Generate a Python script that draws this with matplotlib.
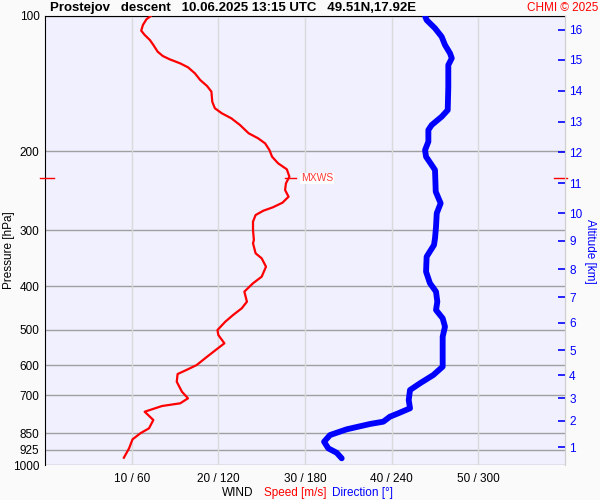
import matplotlib
matplotlib.use('Agg')
import matplotlib.pyplot as plt
from matplotlib.ticker import FixedLocator, NullLocator

plt.rcParams['font.family'] = ['Liberation Sans', 'DejaVu Sans']

# wind speed profile [m/s] vs pressure [hPa]
speed_p = [100, 101.7, 104.7, 107.8, 110.2, 113.1, 116.0, 120.1, 122.8, 124.9,
           127.5, 130.1, 134.2, 138.8, 143.2, 147.4, 155.2, 160.5, 164.7, 169.0,
           174.9, 182.5, 187.3, 192.2, 198.9, 205.8, 212.9, 219.5, 228.0, 235.9,
           244.1, 252.6, 260.5, 266.7, 271.4, 277.5, 287.1, 299.7, 315.4, 320.8,
           337.7, 346.5, 361.7, 380.7, 393.8, 411.1, 432.8, 447.7, 463.4, 479.6,
           500.5, 513.5, 535.8, 552.5, 573.9, 598.9, 614.5, 627.2, 652.5, 686.8,
           710.4, 728.8, 739.0, 760.9, 794.0, 828.5, 850.0, 876.7, 918.1, 963.3]
speed = [12.2, 11.7, 11.3, 11.1, 11.5, 12.1, 12.5, 13.0, 13.6, 14.4,
         15.6, 16.5, 17.3, 17.9, 18.7, 19.2, 19.3, 19.6, 20.4, 21.5,
         22.5, 23.5, 24.6, 25.4, 25.9, 26.2, 26.9, 27.9, 28.2, 27.8,
         27.7, 28.1, 27.4, 26.3, 25.2, 24.3, 24.0, 24.0, 24.1, 24.0,
         24.3, 25.0, 25.5, 25.0, 24.0, 23.0, 23.3, 22.7, 21.7, 20.8,
         19.9, 20.0, 20.7, 19.8, 18.7, 17.5, 16.3, 15.3, 15.2, 15.8,
         16.5, 15.6, 13.5, 11.5, 12.5, 12.0, 11.0, 10.1, 9.7, 9.1]

# wind direction profile [deg] vs pressure [hPa]
dir_p = [100, 102.1, 106.5, 111.2, 116.0, 121.1, 124.2, 128.6, 143.7, 162.0,
         167.6, 174.9, 179.4, 190.5, 198.9, 205.8, 214.7, 220.3, 246.2, 261.3,
         275.0, 294.6, 312.6, 323.6, 343.6, 371.1, 393.8, 411.1, 432.8, 451.6,
         471.3, 492.0, 518.0, 603.9, 630.4, 657.7, 680.8, 716.6, 747.6, 767.1,
         780.5, 800.8, 810.3, 832.7, 857.6, 887.5, 918.1, 939.0, 966.3]
direction = [263.1, 264.2, 270.0, 274.6, 276.9, 280.4, 281.6, 279.2, 279.2, 278.8,
             274.6, 267.7, 265.4, 265.4, 263.1, 263.8, 267.7, 270.0, 270.5, 273.9,
             271.2, 270.7, 270.0, 269.3, 264.2, 263.8, 266.5, 270.7, 271.6, 270.7,
             275.3, 276.9, 275.3, 275.3, 268.8, 259.6, 252.7, 251.8, 252.7, 244.6,
             238.8, 234.2, 225.0, 208.9, 197.3, 193.2, 196.1, 201.9, 205.4]

p_ticks = [100, 200, 300, 400, 500, 600, 700, 850, 925, 1000]
x_ticks = [10, 20, 30, 40, 50]
x_labels = ['10 / 60', '20 / 120', '30 / 180', '40 / 240', '50 / 300']

alt_km = [16, 15, 14, 13, 12, 11, 10, 9, 8, 7, 6, 5, 4, 3, 2, 1]
alt_p = [107.4, 125.3, 146.9, 172.2, 200.9, 235.5, 274.7, 317.0, 366.0, 422.6,
         482.7, 554.5, 630.4, 709.3, 798.0, 912.0]

mxws_speed = 28.2
mxws_p = 230.0

fig = plt.figure(figsize=(6, 5), dpi=100, facecolor='#fafafa')
ax = fig.add_axes([0.075, 0.07, 0.8667, 0.898])
ax.set_facecolor('#f0f0ff')
ax.set_yscale('log')
ax.set_ylim(1000, 100)
ax.set_xlim(0, 60)

ax.yaxis.set_major_locator(FixedLocator(p_ticks))
ax.yaxis.set_minor_locator(NullLocator())
ax.set_yticklabels([str(p) for p in p_ticks])
ax.set_xticks(x_ticks)
ax.set_xticklabels(x_labels)
ax.tick_params(axis='both', length=0, labelsize=8.5, colors='black')
ax.tick_params(axis='y', pad=4)
ax.tick_params(axis='x', pad=6)

for p in p_ticks:
    ax.axhline(p, color='#a0a0a0', lw=1, zorder=1)
for x in x_ticks:
    ax.axvline(x, color='#dadada', lw=1, zorder=1)

ax.spines['left'].set_color('black')
ax.spines['top'].set_color('black')
ax.spines['bottom'].set_visible(False)
ax.spines['right'].set_color('#d0d0d0')

ax.plot(speed, speed_p, color='red', lw=1.6, zorder=3)
ax.plot([d / 6.0 for d in direction], dir_p, color='blue', lw=4.2,
        solid_capstyle='round', zorder=3)

# MXWS marker
ax.plot([mxws_speed - 0.5, mxws_speed + 0.8], [mxws_p, mxws_p], color='red', lw=1, zorder=4)
ax.text(mxws_speed + 1.3, mxws_p, 'MXWS', color='#ff3a3a', fontsize=7.5, va='center',
        ha='left', zorder=4, bbox=dict(facecolor='white', edgecolor='none', pad=0.5))
ax.plot([-0.6, 1.0], [mxws_p, mxws_p], color='red', lw=1, clip_on=False, zorder=5)
ax.plot([58.7, 60.2], [mxws_p, mxws_p], color='red', lw=1, clip_on=False, zorder=5)

ax.set_ylabel('Pressure [hPa]', fontsize=8.5, va='center')
ax.yaxis.set_label_coords(-0.069, 0.478)

ax2 = ax.twinx()
ax2.set_yscale('log')
ax2.set_ylim(1000, 100)
ax2.yaxis.set_major_locator(FixedLocator(alt_p))
ax2.yaxis.set_minor_locator(NullLocator())
ax2.set_yticklabels([str(a) for a in alt_km])
ax2.tick_params(axis='y', direction='in', length=5, width=1.2, color='blue',
                labelcolor='blue', labelsize=8.5, pad=3)
ax2.spines['right'].set_color('#d0d0d0')
ax2.spines['top'].set_visible(False)
ax2.spines['left'].set_visible(False)
ax2.spines['bottom'].set_visible(False)
ax2.set_ylabel('Altitude [km]', color='blue', fontsize=8.5, rotation=-90, va='center')
ax2.yaxis.set_label_coords(1.048, 0.475)

fig.text(0.083, 0.984, 'Prostejov   descent   10.06.2025 13:15 UTC   49.51N,17.92E',
         fontsize=9.5, fontweight='bold', va='center', ha='left')
fig.text(0.997, 0.984, 'CHMI \u00a9 2025', color='red', fontsize=8.5, va='center', ha='right')

fig.text(0.422, 0.014, 'WIND', color='black', fontsize=8.5, ha='right', va='center')
fig.text(0.440, 0.014, 'Speed [m/s]', color='red', fontsize=8.5, ha='left', va='center')
fig.text(0.553, 0.014, 'Direction [\u00b0]', color='blue', fontsize=8.5, ha='left', va='center')

fig.savefig('out.png', dpi=100, facecolor=fig.get_facecolor())
plt.close('all')
